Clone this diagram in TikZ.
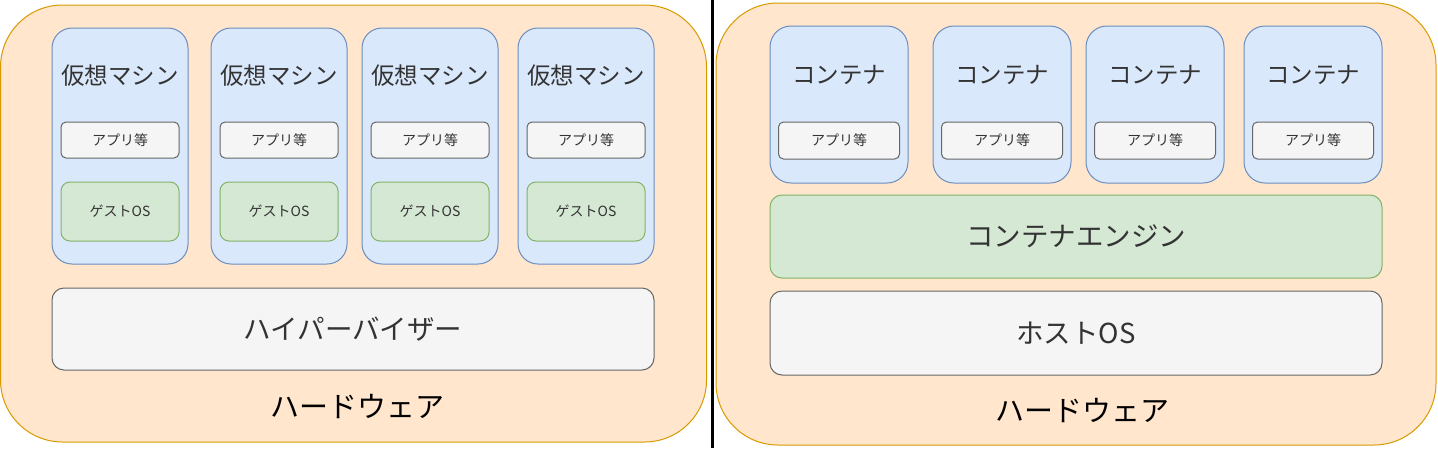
\documentclass[tikz,border=0pt]{standalone}
\usepackage{fontspec}
\setmainfont{Noto Sans CJK JP}
\definecolor{hwfill}{HTML}{FFE6CC}
\definecolor{hwline}{HTML}{D79B00}
\definecolor{bluefill}{HTML}{DAE8FC}
\definecolor{blueline}{HTML}{6C8EBF}
\definecolor{greenfill}{HTML}{D5E8D4}
\definecolor{greenline}{HTML}{82B366}
\definecolor{grayfill}{HTML}{F5F5F5}
\definecolor{grayline}{HTML}{666666}
\definecolor{txt}{HTML}{333333}
\tikzset{
  base/.style={draw, line width=1pt, inner sep=0pt, text=txt},
  hwbox/.style={base, fill=hwfill, draw=hwline},
  bluebox/.style={base, fill=bluefill, draw=blueline},
  greenbox/.style={base, fill=greenfill, draw=greenline},
  graybox/.style={base, fill=grayfill, draw=grayline},
  small/.style={font=\fontsize{14}{14}\selectfont},
  mid/.style={font=\fontsize{23.5}{23.5}\selectfont},
  big/.style={font=\fontsize{27.5}{27.5}\selectfont},
  hwtext/.style={font=\fontsize{29}{29}\selectfont, text=black, inner sep=0pt},
}
\begin{document}
\begin{tikzpicture}[x=1pt, y=-1pt]
\useasboundingbox (0,0) rectangle (1438,448);
\fill[white] (0,0) rectangle (1438,448);
% left side
\node[hwbox, rounded corners=62pt, minimum width=706pt, minimum height=437pt] (hwL) at (353.5,223.5) {};
\foreach \i/\cx in {1/120, 2/279, 3/430, 4/586} {
  \node[bluebox, rounded corners=20pt, minimum width=136pt, minimum height=236pt] (vm\i) at (\cx,146) {};
  \node[mid, text=txt] (vmt\i) at (\cx,76) {仮想マシン};
  \node[graybox, small, rounded corners=5pt, minimum width=118pt, minimum height=36pt] (app\i) at (\cx,140) {アプリ等};
  \node[greenbox, small, rounded corners=9pt, minimum width=118pt, minimum height=59pt] (gos\i) at (\cx,211.5) {ゲストOS};
}
\node[graybox, big, rounded corners=12pt, minimum width=602pt, minimum height=82pt] (hyp) at (353,329) {ハイパーバイザー};
\node[hwtext] (hwtL) at (357,407) {ハードウェア};
% divider
\coordinate (dtop) at (712.5,0);
\coordinate (dbot) at (712.5,448);
\draw[line width=3.5pt, black] (dtop) -- (dbot);
% right side
\node[hwbox, rounded corners=62pt, minimum width=720pt, minimum height=442pt] (hwR) at (1076,224) {};
\foreach \i/\cx in {1/839, 2/1002, 3/1155, 4/1313} {
  \node[bluebox, rounded corners=21pt, minimum width=138pt, minimum height=157pt] (ct\i) at (\cx,104.5) {};
  \node[mid, text=txt] (ctt\i) at (\cx,75) {コンテナ};
  \node[graybox, small, rounded corners=5pt, minimum width=121pt, minimum height=37pt] (capp\i) at (\cx,140.5) {アプリ等};
}
\node[greenbox, big, rounded corners=12pt, minimum width=612pt, minimum height=83pt] (eng) at (1076,236.5) {コンテナエンジン};
\node[graybox, big, rounded corners=12pt, minimum width=612pt, minimum height=84pt] (host) at (1076,333) {ホストOS};
\node[hwtext] (hwtR) at (1082,410) {ハードウェア};
\end{tikzpicture}
\end{document}
